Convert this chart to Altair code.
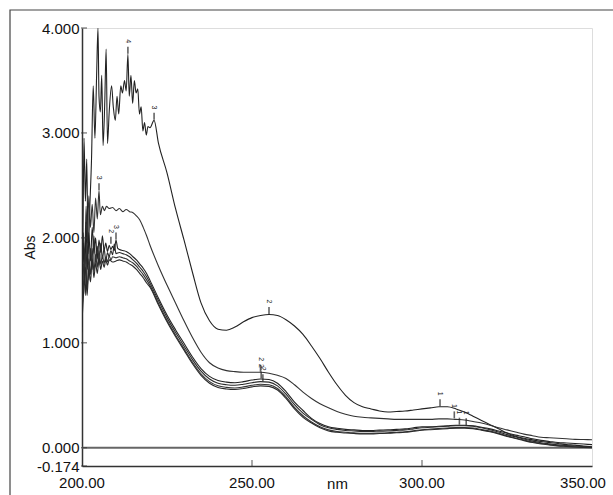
import altair as alt
import pandas as pd

# ---------------- data ----------------
nm_grid = [220.0, 222.5, 225.0, 227.5, 230.0, 232.5, 235.0, 237.5, 240.0, 242.5,
           245.0, 247.5, 250.0, 252.5, 255.0, 257.5, 260.0, 262.5, 265.0, 267.5,
           270.0, 272.5, 275.0, 277.5, 280.0, 282.5, 285.0, 287.5, 290.0, 292.5,
           295.0, 297.5, 300.0, 302.5, 305.0, 307.5, 310.0, 312.5, 315.0, 317.5,
           320.0, 322.5, 325.0, 327.5, 330.0, 332.5, 335.0, 337.5, 340.0, 342.5,
           345.0, 347.5, 350.0]

# curve A (noisy top spectrum)
a_noise_nm = [200.0, 200.3, 200.6, 201.0, 201.4, 201.8, 202.3, 202.8, 203.3, 203.8,
              204.3, 204.7, 205.0, 205.4, 205.8, 206.2, 206.7, 207.1, 207.5, 208.0,
              208.7, 209.2, 209.8, 210.3, 210.8, 211.4, 211.9, 212.5, 213.0, 213.5,
              213.9, 214.4, 214.9, 215.4, 215.9, 216.4, 216.9, 217.4, 217.9, 218.4,
              218.9, 219.4, 220.0, 221.2]
a_noise_abs = [1.15, 2.10, 2.95, 2.35, 2.75, 1.85, 2.30, 2.75, 3.45, 2.95,
               3.55, 4.00, 3.35, 3.20, 3.55, 2.88, 3.30, 3.80, 2.90, 3.20,
               3.45, 3.25, 3.12, 3.35, 3.18, 3.45, 3.38, 3.50, 3.40, 3.75,
               3.35, 3.55, 3.28, 3.50, 3.38, 3.42, 3.18, 3.25, 3.02, 3.10,
               2.98, 3.06, 3.05, 3.12]
a_smooth = [2.90, 2.62, 2.28, 1.98, 1.67, 1.38, 1.21, 1.13, 1.12,
            1.15, 1.20, 1.24, 1.26, 1.27, 1.26, 1.22, 1.16, 1.08, 0.97,
            0.85, 0.72, 0.60, 0.50, 0.43, 0.39, 0.37, 0.35, 0.34, 0.345,
            0.35, 0.36, 0.37, 0.38, 0.39, 0.39, 0.37, 0.34, 0.30, 0.26,
            0.22, 0.18, 0.14, 0.11, 0.09, 0.075, 0.06, 0.05, 0.04, 0.03,
            0.025, 0.015, 0.01]

# curve B
b_noise_nm = [200.0, 200.4, 200.8, 201.2, 201.6, 202.0, 202.5, 203.0, 203.5, 204.0,
              204.5, 205.0, 205.4, 206.0, 206.6, 207.2, 208.0, 209.0, 210.0, 211.0,
              212.0, 213.0, 214.0, 215.0, 216.0, 217.0, 218.0, 219.0]
b_noise_abs = [1.40, 2.05, 1.75, 2.30, 1.95, 2.40, 2.10, 2.32, 2.05, 2.38,
               2.18, 2.45, 2.22, 2.30, 2.26, 2.30, 2.28, 2.29, 2.26, 2.28,
               2.25, 2.27, 2.25, 2.24, 2.21, 2.17, 2.10, 2.02]
b_smooth = [1.93, 1.73, 1.55, 1.38, 1.21, 1.05, 0.91, 0.81, 0.76, 0.735,
            0.725, 0.72, 0.72, 0.72, 0.71, 0.69, 0.66, 0.60, 0.53, 0.47,
            0.42, 0.38, 0.345, 0.32, 0.30, 0.29, 0.285, 0.28, 0.275, 0.27,
            0.27, 0.27, 0.27, 0.27, 0.275, 0.275, 0.27, 0.265, 0.25, 0.235,
            0.215, 0.19, 0.17, 0.15, 0.13, 0.115, 0.10, 0.095, 0.09, 0.085,
            0.08, 0.078, 0.076]

# bunch of four similar spectra C, D, E, F
c_noise_nm = [200.0, 200.4, 200.8, 201.2, 201.6, 202.0, 202.5, 203.0, 203.5, 204.0,
              204.5, 205.0, 205.5, 206.0, 206.5, 207.0, 207.5, 208.0, 208.5, 209.0,
              209.5, 210.0, 210.5, 211.0, 212.0, 213.0, 214.0, 215.0, 216.0, 217.0,
              218.0, 219.0]
c_noise_abs = [1.25, 1.95, 1.55, 2.15, 1.70, 2.05, 1.78, 2.10, 1.85, 2.00,
               1.80, 1.98, 1.86, 2.02, 1.88, 1.95, 1.87, 1.93, 1.89, 1.92,
               1.88, 1.98, 1.90, 1.89, 1.88, 1.87, 1.85, 1.82, 1.79, 1.75,
               1.71, 1.66]
c_smooth = [1.595, 1.425, 1.265, 1.125, 0.995, 0.865, 0.755, 0.68, 0.64, 0.625,
            0.62, 0.63, 0.645, 0.655, 0.65, 0.615, 0.535, 0.435, 0.355, 0.28,
            0.23, 0.20, 0.185, 0.175, 0.17, 0.165, 0.165, 0.168, 0.17, 0.175,
            0.18, 0.19, 0.20, 0.20, 0.205, 0.21, 0.215, 0.215, 0.21, 0.195,
            0.18, 0.16, 0.14, 0.12, 0.105, 0.085, 0.07, 0.06, 0.05, 0.045,
            0.04, 0.035, 0.03]

d_noise_nm = [200.0, 200.5, 201.0, 201.5, 202.0, 202.5, 203.0, 203.5, 204.0, 204.5,
              205.0, 205.5, 206.0, 206.5, 207.0, 207.5, 208.0, 208.5, 209.0, 209.5,
              210.0, 211.0, 212.0, 213.0, 214.0, 215.0, 216.0, 217.0, 218.0, 219.0]
d_noise_abs = [1.10, 1.75, 1.45, 1.95, 1.60, 1.90, 1.70, 2.02, 1.76, 1.92,
               1.74, 1.95, 1.80, 1.90, 1.78, 1.86, 1.82, 1.88, 1.84, 1.94,
               1.85, 1.86, 1.85, 1.84, 1.82, 1.79, 1.76, 1.72, 1.68, 1.63]
d_smooth = [1.57, 1.40, 1.24, 1.10, 0.97, 0.84, 0.73, 0.655, 0.615, 0.60,
            0.595, 0.605, 0.62, 0.63, 0.625, 0.59, 0.51, 0.41, 0.33, 0.27,
            0.22, 0.19, 0.175, 0.165, 0.16, 0.155, 0.155, 0.158, 0.16, 0.165,
            0.17, 0.18, 0.19, 0.195, 0.20, 0.205, 0.21, 0.21, 0.205, 0.19,
            0.172, 0.15, 0.125, 0.104, 0.083, 0.063, 0.048, 0.037, 0.027, 0.021,
            0.016, 0.011, 0.006]

e_noise_nm = [200.0, 200.5, 201.0, 201.5, 202.0, 202.5, 203.0, 203.5, 204.0, 204.5,
              205.0, 205.5, 206.0, 206.5, 207.0, 207.5, 208.0, 208.5, 209.0, 210.0,
              211.0, 212.0, 213.0, 214.0, 215.0, 216.0, 217.0, 218.0, 219.0]
e_noise_abs = [1.30, 1.60, 1.85, 1.50, 1.80, 1.65, 1.90, 1.68, 1.84, 1.72,
               1.88, 1.75, 1.83, 1.76, 1.82, 1.77, 1.83, 1.79, 1.82, 1.81,
               1.82, 1.81, 1.80, 1.78, 1.76, 1.73, 1.69, 1.65, 1.60]
e_smooth = [1.545, 1.375, 1.215, 1.075, 0.945, 0.815, 0.705, 0.63, 0.59, 0.575,
            0.57, 0.58, 0.595, 0.605, 0.60, 0.565, 0.485, 0.385, 0.305, 0.245,
            0.20, 0.17, 0.155, 0.148, 0.142, 0.138, 0.138, 0.14, 0.143, 0.148,
            0.153, 0.162, 0.172, 0.178, 0.183, 0.188, 0.192, 0.193, 0.188, 0.173,
            0.158, 0.138, 0.113, 0.093, 0.073, 0.054, 0.04, 0.03, 0.02, 0.015,
            0.01, 0.006, 0.003]

f_noise_nm = [200.0, 200.5, 201.0, 201.5, 202.0, 202.5, 203.0, 203.5, 204.0, 204.5,
              205.0, 205.5, 206.0, 206.5, 207.0, 207.5, 208.0, 209.0, 210.0, 211.0,
              212.0, 213.0, 214.0, 215.0, 216.0, 217.0, 218.0, 219.0]
f_noise_abs = [1.20, 1.50, 1.72, 1.45, 1.70, 1.58, 1.80, 1.62, 1.76, 1.66,
               1.80, 1.70, 1.78, 1.72, 1.79, 1.74, 1.79, 1.77, 1.78, 1.79,
               1.78, 1.77, 1.75, 1.73, 1.70, 1.66, 1.62, 1.57]
f_smooth = [1.53, 1.36, 1.20, 1.06, 0.93, 0.80, 0.69, 0.615, 0.575, 0.56,
            0.555, 0.565, 0.58, 0.59, 0.585, 0.55, 0.47, 0.37, 0.29, 0.235,
            0.19, 0.16, 0.147, 0.14, 0.135, 0.132, 0.132, 0.135, 0.138, 0.143,
            0.148, 0.157, 0.166, 0.172, 0.177, 0.182, 0.186, 0.187, 0.182, 0.168,
            0.152, 0.132, 0.108, 0.088, 0.068, 0.05, 0.036, 0.026, 0.017, 0.012,
            0.007, 0.003, 0.0]

# peak-pick markers
peak_nm = [213.5, 221.2, 255.0, 305.3, 205.0, 252.5, 309.5, 210.0, 208.5, 252.7, 253.2, 311.0, 313.0]
peak_abs = [3.75, 3.12, 1.27, 0.39, 2.45, 0.72, 0.275, 1.98, 1.94, 0.655, 0.63, 0.215, 0.21]
peak_lbl = ["4", "3", "2", "1", "3", "2", "1", "3", "2", "2", "2", "1", "1"]

y_ticks = [-0.174, 0.0, 1.0, 2.0, 3.0, 4.0]
x_ticks = [200, 250, 300, 350]
x_tick_text = ["200.00", "250.00", "300.00", "350.00"]

# ---------------- table ----------------
rows = []
def add(name, n_nm, n_abs, grid, vals):
    for a, b in zip(n_nm, n_abs):
        rows.append({"series": name, "nm": a, "abs": b})
    for a, b in zip(grid, vals):
        rows.append({"series": name, "nm": a, "abs": b})

add("A", a_noise_nm, a_noise_abs, nm_grid[1:], a_smooth)
add("B", b_noise_nm, b_noise_abs, nm_grid, b_smooth)
add("C", c_noise_nm, c_noise_abs, nm_grid, c_smooth)
add("D", d_noise_nm, d_noise_abs, nm_grid, d_smooth)
add("E", e_noise_nm, e_noise_abs, nm_grid, e_smooth)
add("F", f_noise_nm, f_noise_abs, nm_grid, f_smooth)
df = pd.DataFrame(rows)

peaks = pd.DataFrame({"nm": peak_nm, "abs": peak_abs, "lbl": peak_lbl})
yt = pd.DataFrame({"v": y_ticks})
xt = pd.DataFrame({"v": x_ticks[1:3]})
xl = pd.DataFrame({"v": x_ticks, "t": x_tick_text})

FONT = "Liberation Sans"
xscale = alt.Scale(domain=[200, 350], nice=False, zero=False)
yscale = alt.Scale(domain=[-0.174, 4.0], nice=False, zero=False)

W, H = 510, 438

lines = alt.Chart(df).mark_line(strokeWidth=1.1, interpolate="monotone", clip=True).encode(
    x=alt.X("nm:Q", scale=xscale,
            axis=alt.Axis(values=x_ticks, title="nm", ticks=False, labels=False,
                          grid=False, domainColor="#333", domainWidth=1.5,
                          titleFont=FONT, titleFontSize=15, titleFontWeight="normal",
                          titleColor="#111", titleY=10, titleBaseline="top")),
    y=alt.Y("abs:Q", scale=yscale,
            axis=alt.Axis(values=y_ticks, title="Abs", ticks=False,
                          labelExpr="datum.value < 0 ? '-0.174' : format(datum.value, '.3f')",
                          labelFont=FONT, labelFontSize=15, labelColor="#111",
                          labelPadding=3, grid=False, labelBaseline="middle", labelFlush=False,
                          domainColor="#333", domainWidth=1.5,
                          titleFont=FONT, titleFontSize=14, titleFontWeight="normal",
                          titleColor="#111", titleAngle=-90, titleX=-52, titleY=219,
                          titleAlign="center", titleBaseline="middle")),
    color=alt.Color("series:N", legend=None,
                    scale=alt.Scale(domain=["A", "B", "C", "D", "E", "F"],
                                    range=["#222", "#333", "#222", "#2a2a2a", "#333", "#2a2a2a"])),
    detail="series:N",
)

xlab_main = alt.Chart(xl).transform_filter("datum.v < 350").mark_text(
    font=FONT, fontSize=15, color="#111", baseline="top", align="center"
).encode(x=alt.X("v:Q", scale=xscale), y=alt.value(H + 10), text="t:N")
xlab_last = alt.Chart(xl).transform_filter("datum.v == 350").mark_text(
    font=FONT, fontSize=15, color="#111", baseline="top", align="center", dx=-9
).encode(x=alt.X("v:Q", scale=xscale), y=alt.value(H + 10), text="t:N")

zero = alt.Chart(pd.DataFrame({"z": [0.0]})).mark_rule(color="#666", strokeWidth=1.8).encode(
    y=alt.Y("z:Q", scale=yscale)
)

ytick = alt.Chart(yt).mark_tick(orient="horizontal", size=6, thickness=1.2, color="#333").encode(
    y=alt.Y("v:Q", scale=yscale), x=alt.value(2)
)
xtick = alt.Chart(xt).mark_tick(orient="vertical", size=6, thickness=1.2, color="#333").encode(
    x=alt.X("v:Q", scale=xscale), y=alt.value(H - 3)
)

pk_tick = alt.Chart(peaks).mark_tick(orient="vertical", size=7, thickness=1.6, color="#222", yOffset=-4).encode(
    x=alt.X("nm:Q", scale=xscale), y=alt.Y("abs:Q", scale=yscale)
)
pk_text = alt.Chart(peaks).mark_text(angle=90, fontSize=7, font=FONT, color="#222", yOffset=-13).encode(
    x=alt.X("nm:Q", scale=xscale), y=alt.Y("abs:Q", scale=yscale), text="lbl:N"
)

frame = alt.Chart(pd.DataFrame({"k": [0]})).mark_rect(fill=None, stroke="#444", strokeWidth=1.2).encode(
    x=alt.value(-72), x2=alt.value(700), y=alt.value(-18), y2=alt.value(600)
)

chart = alt.layer(frame, zero, lines, ytick, xtick, pk_tick, pk_text, xlab_main, xlab_last).properties(
    width=W, height=H,
    autosize=alt.AutoSizeParams(type="none"),
    padding={"left": 82, "top": 28, "right": 21, "bottom": 29},
).configure_view(stroke="#777", strokeWidth=1.5).configure(background="white")

chart.save("out.html", embed_options={"renderer": "svg", "actions": False})
